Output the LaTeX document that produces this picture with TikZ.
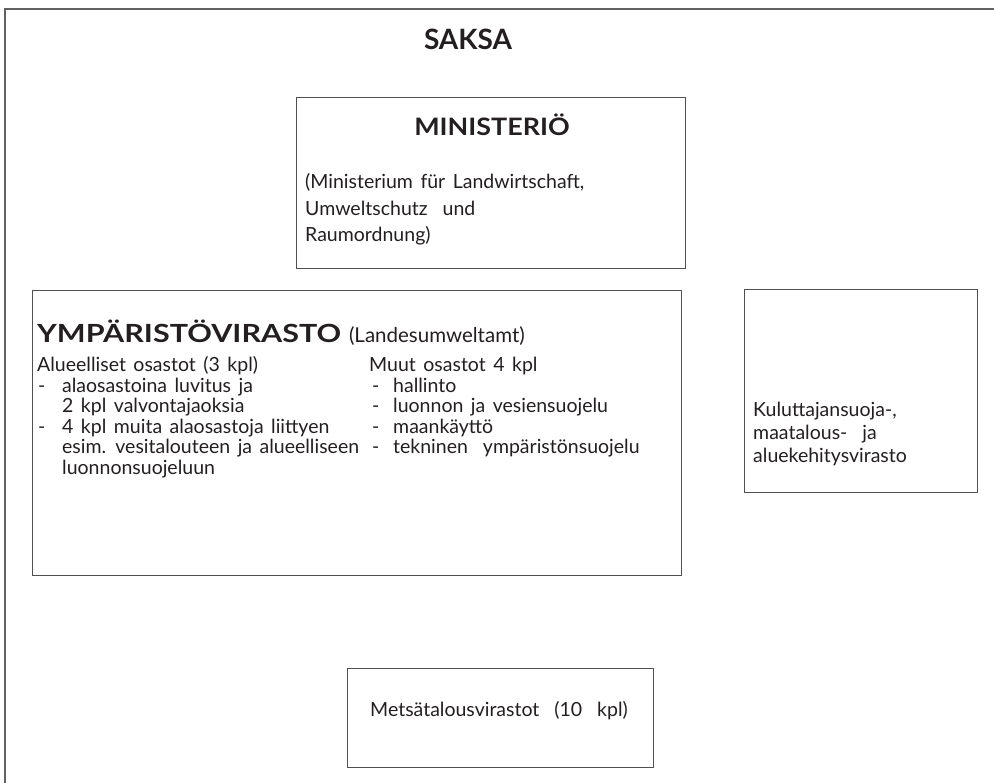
\documentclass[tikz,border=0pt]{standalone}
\usepackage{fontspec}
\setmainfont{Lato}[WordSpace=1.5]
\definecolor{ink}{HTML}{231F20}
\definecolor{edge}{HTML}{505050}
\begin{document}
\begin{tikzpicture}[x=1pt,y=-1pt,
  frame/.style={draw=edge!90, line width=1.8pt},
  box/.style={draw=edge, line width=1.2pt, inner sep=0, anchor=north west},
  txt/.style={anchor=base west, inner sep=0, text=ink, font=\fontsize{19.5}{24}\selectfont},
  hd/.style={anchor=base, inner sep=0, text=ink, font=\fontsize{24}{26}\selectfont\bfseries},
  dsh/.style={txt}]
\useasboundingbox (0,0) rectangle (994,783);
\draw[frame] (5,783) -- (5,9) -- (994,9);
\node[hd, font=\fontsize{28}{30}\selectfont\bfseries] (saksa) at (468,50) {SAKSA};
% Ministerio
\node[box, minimum width=389pt, minimum height=171pt] (minbox) at (296,97) {};
\node[hd] (minhd) at (492,136) {\scalebox{1.12}[1]{MINISTERIÖ}};
\node[txt] (min1) at (305,189) {(Ministerium für Landwirtschaft,};
\node[txt] (min2) at (305,215.5) {Umweltschutz\ \ und};
\node[txt] (min3) at (305,242) {Raumordnung)};
% Ymparistovirasto
\node[box, minimum width=649pt, minimum height=285pt] (ymbox) at (32,290) {};
\node[txt, font=\fontsize{20.5}{26}\selectfont] (ymhd) at (37,343) {{\fontsize{25}{26}\selectfont\bfseries\scalebox{1.22}[1]{YMPÄRISTÖVIRASTO}} (Landesumweltamt)};
\node[txt] (l1) at (37,372) {Alueelliset osastot (3 kpl)};
\node[dsh] (l2d) at (38,392.5) {-};
\node[txt] (l2) at (62,392.5) {alaosastoina luvitus ja};
\node[txt] (l3) at (62,413) {2 kpl valvontajaoksia};
\node[dsh] (l4d) at (38,433.5) {-};
\node[txt] (l4) at (62,433.5) {4 kpl muita alaosastoja liittyen};
\node[txt] (l5) at (62,454) {esim. vesitalouteen ja alueelliseen};
\node[txt] (l6) at (62,474.5) {luonnonsuojeluun};
\node[txt] (r1) at (369,372) {Muut osastot 4 kpl};
\node[dsh] (r2d) at (372,392.5) {-};
\node[txt] (r2) at (393,392.5) {hallinto};
\node[dsh] (r3d) at (372,413) {-};
\node[txt] (r3) at (393,413) {luonnon ja vesiensuojelu};
\node[dsh] (r4d) at (372,433.5) {-};
\node[txt] (r4) at (393,433.5) {maankäyttö};
\node[dsh] (r5d) at (372,454) {-};
\node[txt] (r5) at (393,454) {tekninen\ \ ympäristönsuojelu};
% Kuluttaja
\node[box, minimum width=233pt, minimum height=203pt] (kubox) at (744,289) {};
\node[txt] (k1) at (753,417) {Kuluttajansuoja-,};
\node[txt] (k2) at (753,440) {maatalous-\ \ ja};
\node[txt] (k3) at (753,463) {aluekehitysvirasto};
% Metsa
\node[box, minimum width=306pt, minimum height=99pt] (mebox) at (347,668) {};
\node[txt] (me1) at (370,716) {Metsätalousvirastot\ \ (10\ \ kpl)};
\end{tikzpicture}
\end{document}
